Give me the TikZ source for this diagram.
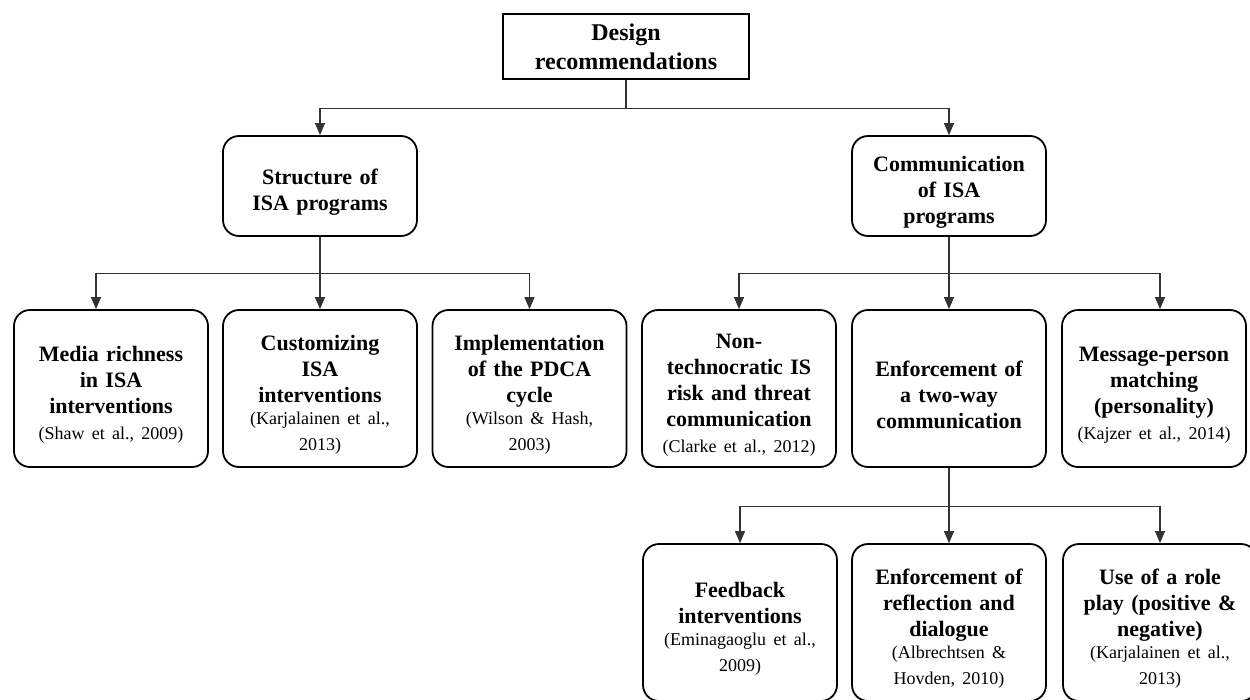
\documentclass[tikz,border=0pt]{standalone}
\usepackage{fontspec}
\setmainfont{Liberation Serif}
\usetikzlibrary{arrows.meta}
\newcommand\citfont{\mdseries\fontsize{18}{22}\selectfont}
\begin{document}
\begin{tikzpicture}[x=1pt,y=-1pt,
  rootbox/.style={draw=black,line width=1.8pt,minimum width=246pt,minimum height=65pt,
    inner sep=0pt,align=center,font=\bfseries\fontsize{24}{29}\selectfont},
  catbox/.style={draw=black,line width=1.8pt,rounded corners=16pt,minimum height=100pt,
    text width=192pt,align=center,inner xsep=1pt,inner ysep=0pt,
    font=\bfseries\fontsize{22}{26}\selectfont,
    execute at begin node={\rule{0pt}{28pt}}},
  leafbox/.style={catbox,minimum height=157pt},
  conn/.style={draw=black!80,line width=1.1pt,-{Triangle[length=12pt,width=10pt]}},
]
\fill[white] (0,0) rectangle (1250,699);
\useasboundingbox (0,0) rectangle (1250,699);

\node[rootbox] (root) at (626,46.5) {Design\\recommendations};

\node[catbox] (struct) at (320,186) {Structure of\\ISA programs};
\node[catbox] (comm) at (949,186) {Communication\\of ISA\\programs};

\node[leafbox] (media) at (111,388.5) {Media richness\\in ISA\\interventions\\\citfont (Shaw et al., 2009)};
\node[leafbox] (custom) at (320,388.5) {Customizing\\ISA\\interventions\\\citfont (Karjalainen et al.,\\2013)};
\node[leafbox] (impl) at (529.5,388.5) {Implementation\\of the PDCA\\cycle\\\citfont (Wilson \& Hash,\\2003)};
\node[leafbox] (non) at (739,388.5) {Non-\\technocratic IS\\risk and threat\\communication\\\citfont (Clarke et al., 2012)};
\node[leafbox] (enf) at (949,388.5) {Enforcement of\\a two-way\\communication};
\node[leafbox,text width=182pt] (msg) at (1154,388.5) {Message-person\\matching\\(personality)\\\citfont (Kajzer et al., 2014)};

\node[leafbox] (feed) at (740,622.5) {Feedback\\interventions\\\citfont (Eminagaoglu et al.,\\2009)};
\node[leafbox] (refl) at (949,622.5) {Enforcement of\\reflection and\\dialogue\\\citfont (Albrechtsen \&\\Hovden, 2010)};
\node[leafbox] (role) at (1160,622.5) {Use of a role\\play (positive \&\\negative)\\\citfont (Karjalainen et al.,\\2013)};

\draw[conn] (root.south) -- ++(0,29) -| (struct.north);
\draw[conn] (root.south) -- ++(0,29) -| (comm.north);

\draw[conn] (struct.south) -- ++(0,37) -| ([xshift=-15pt]media.north);
\draw[conn] (struct.south) -- (custom.north);
\draw[conn] (struct.south) -- ++(0,37) -| (impl.north);

\draw[conn] (comm.south) -- ++(0,37) -| (non.north);
\draw[conn] (comm.south) -- (enf.north);
\draw[conn] (comm.south) -- ++(0,37) -| ([xshift=6pt]msg.north);

\draw[conn] (enf.south) -- ++(0,39) -| (feed.north);
\draw[conn] (enf.south) -- (refl.north);
\draw[conn] (enf.south) -- ++(0,39) -| (role.north);
\end{tikzpicture}
\end{document}
